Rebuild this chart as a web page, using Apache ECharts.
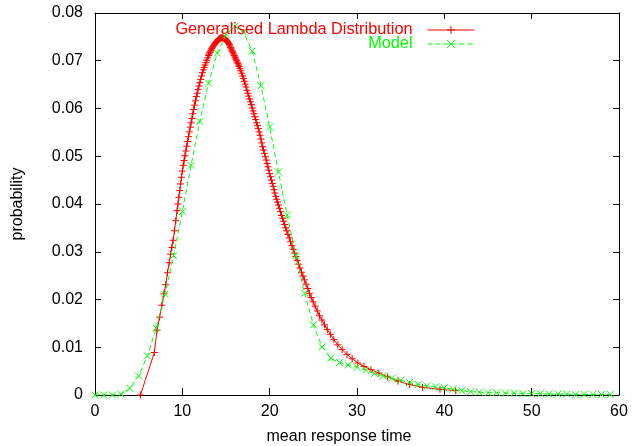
<!DOCTYPE html>
<html><head><meta charset="utf-8">
<script src="https://cdn.jsdelivr.net/npm/echarts@6/dist/echarts.min.js"></script>
<style>html,body{margin:0;padding:0;background:#fff}#c{width:639px;height:446px}</style>
</head><body><div id="c"></div>
<script>
const seriesNames = ['Generalised Lambda Distribution', 'Model'];
const xTickLabels = ['0', '10', '20', '30', '40', '50', '60'];
const yTickLabels = ['0', '0.01', '0.02', '0.03', '0.04', '0.05', '0.06', '0.07', '0.08'];

// Generalised Lambda Distribution: [mean response time, probability]
const glCurve = [[5.2,0],[6.8,0.0089],[7.1,0.0136],[7.4,0.0163],[7.65,0.0188],[7.9,0.0212],[8.1,0.0231],[8.3,0.0256],[8.5,0.0277],[8.65,0.0295],[8.8,0.0309],[8.95,0.0324],[9.1,0.0344],[9.25,0.0365],[9.4,0.0386],[9.5,0.0400],[9.6,0.0414],[9.7,0.0428],[9.8,0.0442],[9.9,0.0456],[10.0,0.0469],[10.1,0.0481],[10.2,0.0491],[10.3,0.0501],[10.4,0.0511],[10.5,0.0521],[10.6,0.0531],[10.7,0.0541],[10.8,0.0551],[10.9,0.0561],[11.0,0.0570],[11.1,0.0579],[11.2,0.0589],[11.3,0.0598],[11.4,0.0607],[11.5,0.0616],[11.6,0.0625],[11.7,0.0632],[11.8,0.0640],[11.9,0.0647],[12.0,0.0654],[12.1,0.0661],[12.2,0.0668],[12.3,0.0675],[12.4,0.0681],[12.5,0.0686],[12.6,0.0691],[12.7,0.0696],[12.8,0.0701],[12.9,0.0706],[13.0,0.0711],[13.07,0.0714],[13.14,0.0717],[13.21,0.0720],[13.28,0.0722],[13.35,0.0725],[13.42,0.0727],[13.49,0.0729],[13.56,0.0731],[13.63,0.0733],[13.7,0.0735],[13.77,0.0737],[13.84,0.0738],[13.91,0.0740],[13.98,0.0741],[14.05,0.0743],[14.12,0.0744],[14.19,0.0745],[14.26,0.0746],[14.33,0.0747],[14.4,0.0748],[14.47,0.0748],[14.54,0.0748],[14.61,0.0748],[14.68,0.0747],[14.75,0.0747],[14.82,0.0746],[14.89,0.0746],[14.96,0.0745],[15.03,0.0743],[15.1,0.0742],[15.17,0.0740],[15.24,0.0738],[15.31,0.0736],[15.38,0.0734],[15.45,0.0731],[15.52,0.0728],[15.59,0.0725],[15.66,0.0722],[15.73,0.0720],[15.8,0.0717],[15.87,0.0714],[15.94,0.0711],[16.01,0.0708],[16.08,0.0706],[16.15,0.0703],[16.22,0.0700],[16.29,0.0697],[16.36,0.0694],[16.43,0.0691],[16.5,0.0688],[16.6,0.0684],[16.7,0.0679],[16.8,0.0674],[16.9,0.0668],[17.0,0.0663],[17.1,0.0657],[17.2,0.0651],[17.3,0.0645],[17.4,0.0638],[17.5,0.0632],[17.6,0.0626],[17.7,0.0620],[17.8,0.0614],[17.9,0.0608],[18.0,0.0601],[18.1,0.0595],[18.2,0.0589],[18.3,0.0583],[18.4,0.0577],[18.5,0.0570],[18.6,0.0564],[18.7,0.0558],[18.8,0.0551],[18.9,0.0544],[19.0,0.0536],[19.1,0.0528],[19.2,0.0520],[19.3,0.0513],[19.4,0.0506],[19.5,0.0499],[19.6,0.0492],[19.7,0.0485],[19.8,0.0478],[19.9,0.0471],[20.0,0.0464],[20.1,0.0457],[20.2,0.0450],[20.3,0.0443],[20.4,0.0437],[20.5,0.0430],[20.6,0.0423],[20.7,0.0416],[20.8,0.0410],[20.9,0.0404],[21.0,0.0398],[21.12,0.0391],[21.24,0.0384],[21.36,0.0376],[21.48,0.0370],[21.6,0.0364],[21.72,0.0357],[21.84,0.0350],[21.96,0.0344],[22.1,0.0336],[22.25,0.0329],[22.4,0.0321],[22.55,0.0313],[22.7,0.0305],[22.85,0.0297],[23.0,0.0290],[23.15,0.0282],[23.3,0.0274],[23.47,0.0266],[23.64,0.0257],[23.81,0.0249],[23.98,0.0241],[24.17,0.0232],[24.36,0.0223],[24.56,0.0213],[24.76,0.0204],[24.98,0.0195],[25.2,0.0186],[25.45,0.0176],[25.7,0.0166],[25.98,0.0157],[26.28,0.0147],[26.6,0.0137],[26.95,0.0127],[27.35,0.0116],[27.8,0.0105],[28.3,0.0095],[28.85,0.0085],[29.45,0.0076],[30.1,0.0067],[30.8,0.0060],[31.6,0.0053],[32.5,0.0046],[33.5,0.0038],[34.7,0.0029],[36.0,0.0022],[37.5,0.0016],[39.5,0.0012],[41.3,0.0009]];

// Model
const modelTime = [0,1,2,3,4,5,6,7,8,9,10,11,12,13,14,15,16,17,18,19,20,21,22,23,24,25,26,27,28,29,30,31,32,33,34,35,36,37,38,39,40,41,42,43,44,45,46,47,48,49,50,51,52,53,54,55,56,57,58,59];
const modelProb = [0,0,0,0.0002,0.0014,0.0040,0.0082,0.0140,0.0211,0.0292,0.0384,0.0481,0.0573,0.0653,0.0716,0.0755,0.0772,0.0760,0.0720,0.0648,0.0561,0.0467,0.0377,0.0292,0.0213,0.0147,0.0101,0.0077,0.0068,0.0063,0.0058,0.0052,0.0045,0.0040,0.0035,0.0031,0.0026,0.0022,0.0019,0.0017,0.0015,0.0012,0.0009,0.0007,0.0006,0.0005,0.0005,0.0004,0.0004,0.0003,0.0003,0.0003,0.0002,0.0002,0.0002,0.0001,0.0001,0.0001,0.0001,0.0001];

const FONT = '"Liberation Sans", Arial, Helvetica, sans-serif';
const RED = '#ff0000';
const GREEN = '#00ff00';
const PLUS = 'path://M0,5L10,5M5,0L5,10';
const CROSS = 'path://M0,0L10,10M0,10L10,0';

const chart = echarts.init(document.getElementById('c'), null, {renderer: 'canvas'});

const baseX = {type: 'value', min: 0, max: 60, interval: 10, splitLine: {show: false},
  axisLine: {show: true, onZero: false, lineStyle: {color: '#000', width: 1}},
  axisTick: {show: true, inside: true, length: 7, lineStyle: {color: '#000'}}};
const baseY = {type: 'value', min: 0, max: 0.08, interval: 0.01, splitLine: {show: false},
  axisLine: {show: true, onZero: false, lineStyle: {color: '#000', width: 1}},
  axisTick: {show: true, inside: true, length: 6, lineStyle: {color: '#000'}}};

chart.setOption({
  animation: false,
  backgroundColor: '#fff',
  textStyle: {fontFamily: FONT},
  grid: {left: 95, right: 20, top: 13, bottom: 51, containLabel: false, outerBoundsMode: 'none'},
  legend: {
    orient: 'vertical', align: 'right', right: 164, top: 22, padding: 0, itemGap: -2,
    itemWidth: 47, itemHeight: 10, selectedMode: false,
    lineStyle: {width: 1},
    itemStyle: {borderWidth: 1},
    textStyle: {fontSize: 16.3, fontFamily: FONT, lineHeight: 15, padding: [0, 10, 0, 0]},
    data: [
      {name: seriesNames[0], textStyle: {color: RED}},
      {name: seriesNames[1], textStyle: {color: GREEN}}
    ]
  },
  xAxis: [
    Object.assign({}, baseX, {
      position: 'bottom',
      axisLabel: {show: true, margin: 9, fontSize: 16, color: '#000', fontFamily: FONT,
        formatter: v => xTickLabels[Math.round(v / 10)]},
      name: 'mean response time', nameLocation: 'middle', nameGap: 34, nameMoveOverlap: false,
      nameTextStyle: {fontSize: 16, color: '#000', fontFamily: FONT, padding: [0, 36, 0, 0]}
    }),
    Object.assign({}, baseX, {position: 'top', axisTick: {show: true, inside: true, length: 6, lineStyle: {color: '#000'}}, axisLabel: {show: false}})
  ],
  yAxis: [
    Object.assign({}, baseY, {
      position: 'left',
      axisLabel: {show: true, margin: 12, fontSize: 16, color: '#000', fontFamily: FONT,
        formatter: v => yTickLabels[Math.round(v / 0.01)]},
      name: 'probability', nameLocation: 'middle', nameGap: 69, nameRotate: 90, nameMoveOverlap: false,
      nameTextStyle: {fontSize: 16, color: '#000', fontFamily: FONT}
    }),
    Object.assign({}, baseY, {position: 'right', axisLabel: {show: false}})
  ],
  series: [
    {
      name: seriesNames[0], type: 'line', xAxisIndex: 0, yAxisIndex: 0,
      data: glCurve,
      symbol: PLUS, symbolSize: 7, showSymbol: true, showAllSymbol: true,
      lineStyle: {color: RED, width: 1},
      itemStyle: {color: 'rgba(0,0,0,0)', borderColor: RED, borderWidth: 1},
      emphasis: {disabled: true}, z: 2
    },
    {
      name: seriesNames[1], type: 'line', xAxisIndex: 0, yAxisIndex: 0,
      data: modelTime.map((t, i) => [t, modelProb[i]]),
      symbol: CROSS, symbolSize: 7, showSymbol: true, showAllSymbol: true,
      lineStyle: {color: GREEN, width: 1, type: [5, 3]},
      itemStyle: {color: 'rgba(0,0,0,0)', borderColor: GREEN, borderWidth: 1},
      emphasis: {disabled: true}, z: 3
    }
  ]
});
</script>
</body></html>
